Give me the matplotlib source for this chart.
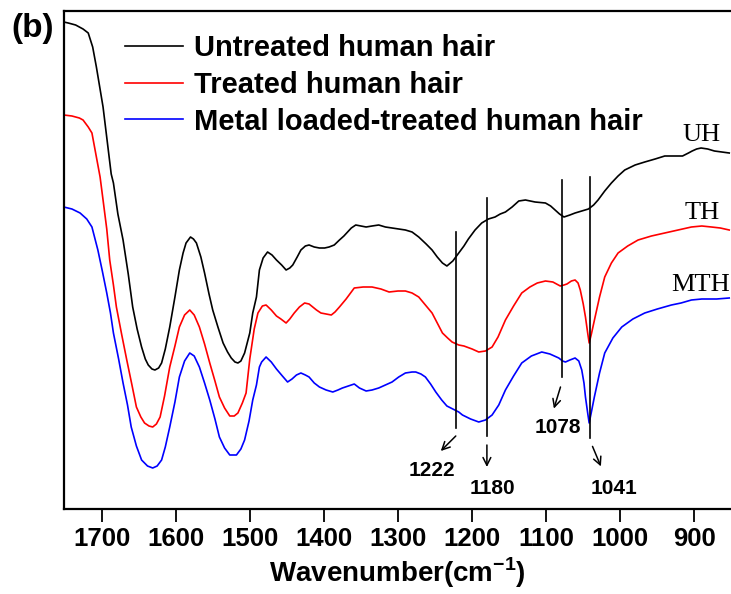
import matplotlib
matplotlib.use('Agg')
import matplotlib.pyplot as plt
from matplotlib.transforms import offset_copy

plt.rcParams['font.family'] = ['Liberation Sans', 'DejaVu Sans']
plt.rcParams['mathtext.fontset'] = 'custom'
plt.rcParams['mathtext.rm'] = 'Liberation Sans:bold'
plt.rcParams['mathtext.bf'] = 'Liberation Sans:bold'

# FTIR spectra (wavenumber in cm^-1, transmittance in arbitrary offset units)
uh_wn = [1751, 1745, 1735, 1725, 1718, 1712, 1707, 1702, 1698, 1692, 1687, 1684, 1678, 1671,
         1664, 1658, 1652, 1646, 1641, 1637, 1632, 1628, 1623, 1619, 1614, 1608, 1601, 1595,
         1590, 1586, 1580, 1576, 1572, 1566, 1561, 1555, 1550, 1543, 1536, 1530, 1525, 1520,
         1516, 1512, 1507, 1500, 1496, 1491, 1487, 1482, 1476, 1470, 1464, 1457, 1451, 1446,
         1442, 1436, 1431, 1425, 1420, 1413, 1406, 1399, 1393, 1386, 1379, 1373, 1368, 1363,
         1357, 1350, 1343, 1335, 1326, 1317, 1308, 1299, 1290, 1281, 1272, 1262, 1254, 1247,
         1240, 1234, 1226, 1218, 1211, 1205, 1196, 1187, 1178, 1169, 1162, 1155, 1146, 1137,
         1128, 1115, 1101, 1094, 1088, 1082, 1076, 1068, 1061, 1052, 1043, 1036, 1030, 1021,
         1012, 1003, 994, 980, 967, 953, 940, 928, 916, 908, 903, 897, 891, 882, 873, 863, 853]
uh_t = [487, 486, 484, 480, 476, 462, 442, 420, 402, 365, 335, 326, 295, 269,
        235, 202, 180, 162, 150, 144, 140, 139, 141, 146, 160, 182, 212, 239,
        256, 266, 272, 270, 266, 252, 236, 215, 199, 182, 166, 157, 151, 147,
        146, 148, 156, 176, 196, 212, 239, 251, 257, 254, 249, 244, 239, 241,
        244, 252, 259, 263, 264, 262, 261, 261, 262, 264, 269, 273, 277, 281,
        284, 283, 282, 283, 284, 282, 281, 280, 279, 277, 272, 265, 259, 252,
        246, 243, 248, 256, 263, 270, 279, 286, 290, 292, 295, 297, 302, 308,
        309, 307, 306, 303, 299, 295, 292, 294, 296, 298, 300, 304, 309, 318,
        326, 333, 339, 344, 347, 350, 353, 353, 353, 356, 358, 360, 361, 360, 358, 357, 356]

th_wn = [1751, 1740, 1730, 1725, 1718, 1713, 1707, 1702, 1698, 1693, 1689, 1684, 1680, 1673,
         1666, 1659, 1653, 1647, 1642, 1636, 1631, 1626, 1621, 1615, 1608, 1601, 1595, 1588,
         1581, 1575, 1568, 1561, 1554, 1547, 1541, 1534, 1527, 1521, 1516, 1510, 1505, 1500,
         1494, 1489, 1483, 1478, 1471, 1464, 1458, 1451, 1446, 1440, 1433, 1426, 1420, 1415,
         1410, 1404, 1397, 1390, 1385, 1379, 1370, 1364, 1359, 1347, 1335, 1323, 1312, 1300,
         1290, 1281, 1272, 1263, 1254, 1247, 1240, 1233, 1227, 1218, 1211, 1200, 1191, 1182,
         1173, 1165, 1155, 1144, 1133, 1122, 1112, 1101, 1091, 1081, 1076, 1072, 1066, 1061,
         1057, 1054, 1050, 1047, 1044, 1042, 1039, 1034, 1028, 1021, 1012, 1003, 990, 976,
         958, 940, 922, 904, 890, 877, 865, 853]
th_t = [394, 393, 391, 389, 382, 376, 352, 332, 309, 280, 249, 224, 202, 175,
        149, 124, 102, 92, 86, 83, 82, 85, 92, 113, 142, 163, 182, 194,
        199, 194, 182, 165, 146, 128, 112, 101, 93, 93, 96, 106, 116, 150,
        180, 196, 203, 204, 199, 193, 190, 186, 190, 196, 202, 206, 205, 202,
        199, 196, 195, 194, 197, 202, 210, 216, 221, 222, 222, 220, 217, 218,
        218, 216, 212, 204, 196, 186, 176, 171, 167, 164, 163, 160, 157, 158,
        162, 172, 189, 203, 216, 222, 226, 228, 227, 223, 224, 225, 228, 229,
        226, 219, 205, 192, 176, 166, 175, 192, 212, 232, 246, 256, 263, 269,
        273, 276, 279, 282, 283, 282, 281, 279]

mth_wn = [1751, 1740, 1729, 1720, 1713, 1705, 1699, 1693, 1688, 1684, 1677, 1671, 1665, 1660,
          1653, 1646, 1638, 1631, 1625, 1619, 1614, 1608, 1601, 1595, 1588, 1581, 1575, 1568,
          1561, 1554, 1547, 1541, 1534, 1527, 1518, 1512, 1507, 1501, 1496, 1491, 1487, 1484,
          1478, 1471, 1464, 1456, 1449, 1443, 1437, 1431, 1425, 1420, 1413, 1406, 1397, 1388,
          1381, 1375, 1367, 1359, 1352, 1343, 1335, 1326, 1317, 1308, 1299, 1290, 1281, 1276,
          1269, 1263, 1256, 1249, 1241, 1234, 1226, 1218, 1213, 1202, 1191, 1182, 1173, 1164,
          1155, 1144, 1133, 1120, 1106, 1095, 1083, 1078, 1074, 1068, 1061, 1056, 1052, 1049,
          1047, 1044, 1042, 1039, 1035, 1028, 1021, 1010, 998, 983, 967, 950, 931, 918,
          904, 890, 870, 853]
mth_t = [302, 300, 296, 290, 282, 259, 238, 216, 196, 176, 150, 126, 104, 82,
         63, 49, 43, 41, 43, 49, 62, 82, 107, 132, 148, 156, 153, 142,
         126, 109, 90, 72, 61, 54, 54, 60, 69, 88, 109, 124, 142, 147,
         152, 147, 140, 133, 127, 130, 134, 136, 134, 132, 126, 122, 119, 117,
         119, 121, 123, 125, 121, 118, 119, 121, 124, 127, 132, 136, 137, 137,
         135, 132, 125, 117, 109, 103, 100, 97, 94, 90, 87, 89, 94, 104,
         119, 133, 146, 153, 157, 155, 151, 148, 147, 149, 151, 148, 139, 126,
         112, 96, 86, 97, 112, 136, 156, 171, 182, 190, 196, 200, 204, 206,
         209, 210, 210, 211]

# marked bands: vertical guide lines (top, bottom in transmittance units)
peak_wn = [1222, 1180, 1078, 1041]
peak_top = [277, 311, 329, 332]
peak_bottom = [81, 73, 132, 71]

labels = ['Untreated human hair', 'Treated human hair', 'Metal loaded-treated human hair']
short_names = ['UH', 'TH', 'MTH']

fig = plt.figure(figsize=(7.31, 5.94), dpi=100)
W, H = 731, 594
ax = fig.add_axes([64 / W, 85 / H, (731 - 64) / W, (509 - 11) / H])

ax.plot(uh_wn, uh_t, color='black', lw=1.2, label=labels[0])
ax.plot(th_wn, th_t, color='red', lw=1.2, label=labels[1])
ax.plot(mth_wn, mth_t, color='blue', lw=1.2, label=labels[2])

ax.set_xlim(1750.7, 850.6)
ax.set_ylim(0, 498)
ax.set_xticks([1700, 1600, 1500, 1400, 1300, 1200, 1100, 1000, 900])
ax.set_yticks([])
ax.tick_params(axis='x', direction='out', length=9, width=1.3, labelsize=18.5, pad=4)
for lab in ax.get_xticklabels():
    lab.set_fontweight('bold')
for side in ['left', 'bottom', 'top']:
    ax.spines[side].set_linewidth(1.6)
ax.spines['right'].set_visible(False)

ax.set_xlabel('Wavenumber(cm$^{\\mathbf{-1}}$)', fontsize=20, fontweight='bold', labelpad=3)

# guide lines with arrows and band labels
arrow_tail = [(0, -8), (0, -9), (-2, -10), (2.6, -8.4)]
arrow_head = [(-15, -23), (0, -31), (-8.6, -31.6), (11, -28.4)]
text_off = [(-24, -43), (6, -53), (-5, -50), (24, -50)]
for wn, top, bot, tl, hd, to in zip(peak_wn, peak_top, peak_bottom, arrow_tail, arrow_head, text_off):
    ax.plot([wn, wn], [bot, top], color='black', lw=1.2)
    ax.annotate('', xy=(wn, bot), xycoords=offset_copy(ax.transData, fig=fig, x=hd[0], y=hd[1], units='dots'),
                xytext=(wn, bot), textcoords=offset_copy(ax.transData, fig=fig, x=tl[0], y=tl[1], units='dots'),
                arrowprops=dict(arrowstyle='->', lw=1.1, color='black', mutation_scale=14,
                                shrinkA=0, shrinkB=0))
    ax.annotate(str(wn), xy=(wn, bot), xytext=to, textcoords='offset pixels',
                ha='center', va='center', fontsize=15, fontweight='bold')

# curve names on the right
ax.text(890, 374, short_names[0], fontsize=19, family='Liberation Serif', ha='center', va='center')
ax.text(889, 296, short_names[1], fontsize=19, family='Liberation Serif', ha='center', va='center')
ax.text(852, 224, short_names[2], fontsize=19, family='Liberation Serif', ha='right', va='center')

ax.legend(loc='upper left', bbox_to_anchor=(61 / 667, 1 - 23 / 498), frameon=False,
          prop={'size': 21, 'weight': 'bold'}, handlelength=2.0, handletextpad=0.35,
          labelspacing=0.3, borderaxespad=0, borderpad=0)

fig.text(11 / W, 1 - 28 / H, '(b)', fontsize=24, fontweight='bold', ha='left', va='center')

fig.savefig('out.png', dpi=100)
